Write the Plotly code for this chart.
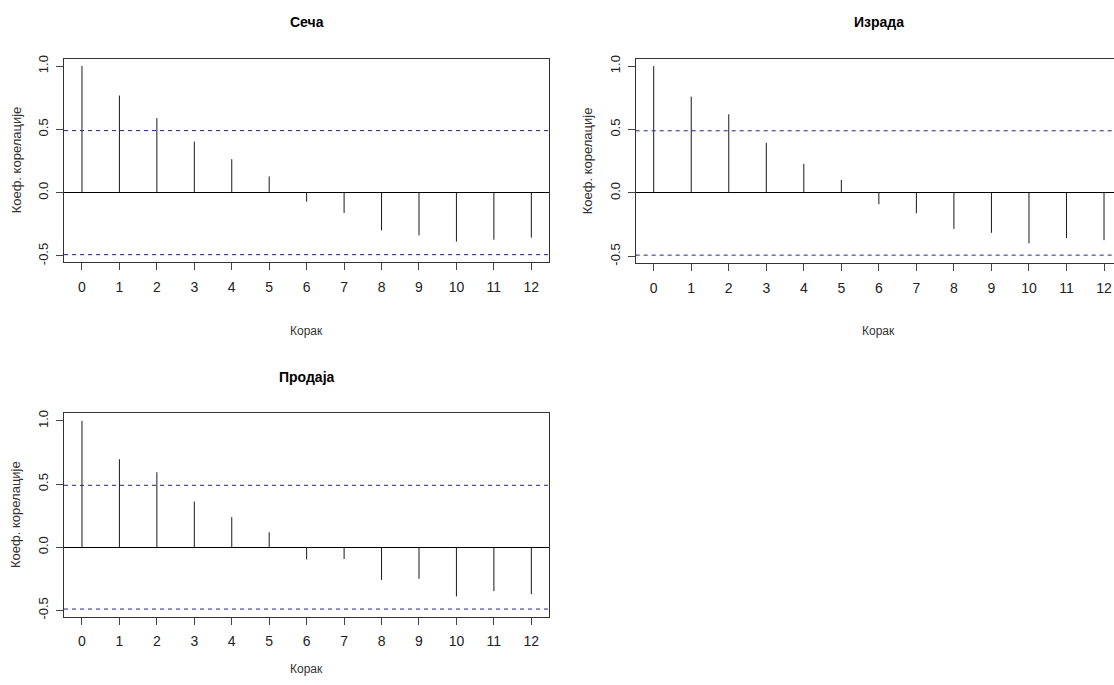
import plotly.graph_objects as go

# ---------------- data ----------------
lags = list(range(13))
x_tick_labels = [str(l) for l in lags]
y_tick_values = [-0.5, 0.0, 0.5, 1.0]
y_tick_labels = ["-0.5", "0.0", "0.5", "1.0"]

panel_titles = ["Сеча", "Израда", "Продаја"]
acf_seca = [1.0, 0.767, 0.589, 0.403, 0.264, 0.128, -0.071, -0.160, -0.298, -0.338, -0.387, -0.372, -0.356]
acf_izrada = [1.0, 0.759, 0.620, 0.395, 0.230, 0.102, -0.089, -0.160, -0.283, -0.314, -0.398, -0.356, -0.372]
acf_prodaja = [1.0, 0.696, 0.594, 0.361, 0.238, 0.118, -0.097, -0.094, -0.259, -0.251, -0.390, -0.348, -0.372]
conf_limit = 0.49

x_title = "Корак"
y_title = "Коеф. корелације"

# ---------------- layout helpers ----------------
W, H = 1114, 685
FONT = "Arial, 'Liberation Sans', sans-serif"

# pixel boxes of plot areas: (left, right, top, bottom)
boxes = [
    (64.0, 549.3, 56.0, 261.5),
    (635.7, 1114.0, 56.0, 262.0),
    (64.0, 549.3, 414.0, 619.0),
]
x_ranges = [[-0.48, 12.48], [-0.48, 12.266], [-0.48, 12.48]]
y_range = [-0.5496, 1.0596]
right_line = [True, False, True]

series = [acf_seca, acf_izrada, acf_prodaja]

fig = go.Figure()

def px_x(p):
    return p / W

def px_y(p):
    return 1 - p / H

annotations = []
shapes = []
for i, (vals, title, box) in enumerate(zip(series, panel_titles, boxes)):
    n = "" if i == 0 else str(i + 1)
    xs, ys = [], []
    for l, v in zip(lags, vals):
        xs += [l, l, None]
        ys += [0, v, None]
    fig.add_trace(go.Scatter(
        x=xs, y=ys, mode="lines",
        line=dict(color="#1a1a1a", width=1),
        xaxis="x" + n, yaxis="y" + n,
        hoverinfo="skip", showlegend=False,
    ))
    l, r, t, b = box
    fig.layout["xaxis" + n] = dict(
        domain=[px_x(l), px_x(r)], range=x_ranges[i], anchor="y" + n,
        tickmode="array", tickvals=lags, ticktext=x_tick_labels,
        ticks="outside", ticklen=7, tickcolor="#444", tickwidth=1,
        showline=True, linecolor="#333", linewidth=1, mirror=True,
        showgrid=False, zeroline=False,
        tickfont=dict(family=FONT, size=14, color="#222"),
        ticklabelstandoff=5,
    )
    fig.layout["yaxis" + n] = dict(
        domain=[px_y(b), px_y(t)], range=y_range, anchor="x" + n,
        tickmode="array", tickvals=y_tick_values, ticktext=y_tick_labels,
        ticks="outside", ticklen=7, tickcolor="#444", tickwidth=1,
        showline=True, linecolor="#333", linewidth=1, mirror=right_line[i],
        showgrid=False, zeroline=True, zerolinecolor="#000", zerolinewidth=1,
        tickangle=-90,
        tickfont=dict(family=FONT, size=13, color="#222"),
        ticklabelstandoff=3,
    )
    for yv in (conf_limit, -conf_limit):
        shapes.append(dict(
            type="line", xref="x" + n + " domain", yref="y" + n,
            x0=0, x1=1, y0=yv, y1=yv,
            line=dict(color="#1f1f8c", width=1, dash="4px,4px"),
        ))
    cx = (l + (box[1] if i != 1 else 1122.0)) / 2
    annotations.append(dict(
        text="<b>" + title + "</b>", xref="paper", yref="paper",
        x=px_x(cx), y=px_y(t - 37), showarrow=False,
        xanchor="center", yanchor="middle",
        font=dict(family=FONT, size=14, color="#000"),
    ))
    xt_y = b + 69 if i != 2 else 672
    annotations.append(dict(
        text=x_title, xref="paper", yref="paper",
        x=px_x(cx), y=px_y(xt_y), showarrow=False,
        xanchor="center", yanchor="middle",
        font=dict(family=FONT, size=12, color="#333"),
    ))
    annotations.append(dict(
        text=y_title, xref="paper", yref="paper",
        x=px_x(l - 48), y=px_y((t + b) / 2), showarrow=False,
        xanchor="center", yanchor="middle", textangle=-90,
        font=dict(family=FONT, size=13, color="#333"),
    ))

fig.update_layout(
    width=W, height=H,
    margin=dict(l=0, r=0, t=0, b=0),
    paper_bgcolor="white", plot_bgcolor="white",
    showlegend=False, hovermode=False,
    annotations=annotations, shapes=shapes,
)

fig.write_html("out.html", include_plotlyjs=True, config={"displayModeBar": False})
